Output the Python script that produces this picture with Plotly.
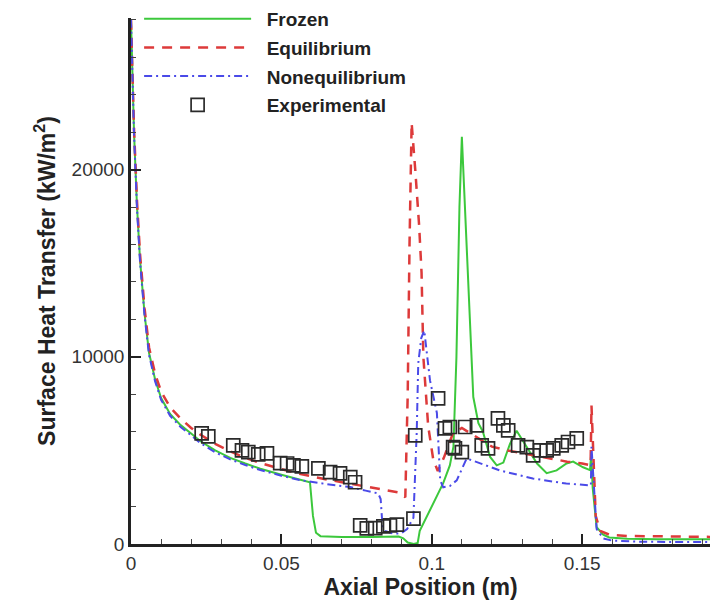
import plotly.graph_objects as go

# Surface heat transfer along the axial position for three chemistry models
frozen_x = [0, 0.0005, 0.001, 0.002, 0.003, 0.0045, 0.006, 0.008, 0.010, 0.013, 0.0165,
            0.020, 0.023, 0.028, 0.033, 0.038, 0.043, 0.050, 0.056, 0.0595, 0.0605,
            0.0615, 0.063, 0.070, 0.080, 0.089, 0.0905, 0.092, 0.094, 0.0953, 0.096,
            0.0985, 0.1005, 0.1038, 0.106, 0.1072, 0.1082, 0.1092, 0.1100, 0.1110,
            0.1127, 0.1138, 0.1155, 0.117, 0.1194, 0.1216, 0.1238, 0.126, 0.1282,
            0.1304, 0.135, 0.1382, 0.1415, 0.1448, 0.147, 0.1503, 0.1526, 0.1530,
            0.1535, 0.1548, 0.157, 0.159, 0.165, 0.175, 0.1925]
frozen_y = [28000, 25000, 22000, 18000, 15200, 12300, 10200, 8800, 7800, 6950, 6350,
            5900, 5500, 5000, 4600, 4300, 4020, 3700, 3450, 3300, 1500,
            600, 420, 380, 380, 400, 300, 80, 0, 50, 700,
            1500, 2150, 3250, 4200, 5200, 10000, 18000, 21750, 18000,
            11400, 7850, 6450, 6000, 4650, 4200, 4350, 5350, 6050,
            5500, 4300, 3780, 3930, 4300, 4400, 4100, 3950, 4800,
            3000, 900, 500, 350, 280, 260, 250]

equil_x = [0, 0.0005, 0.001, 0.002, 0.003, 0.0045, 0.006, 0.008, 0.010, 0.013, 0.0165,
           0.020, 0.023, 0.028, 0.033, 0.038, 0.043, 0.050, 0.056, 0.065, 0.075, 0.083,
           0.089, 0.0912, 0.0920, 0.0926, 0.0933, 0.0945, 0.0958, 0.0966, 0.0972,
           0.0988, 0.1005, 0.1020, 0.1040, 0.1070, 0.1100, 0.113, 0.117, 0.120, 0.125,
           0.130, 0.135, 0.140, 0.145, 0.150, 0.1528, 0.1531, 0.1536, 0.1545, 0.156,
           0.159, 0.165, 0.175, 0.1925]
equil_y = [28000, 25000, 22200, 18300, 15500, 12600, 10500, 9100, 8150, 7300, 6700,
           6200, 5850, 5350, 4950, 4600, 4330, 4000, 3750, 3450, 3150, 2950,
           2750, 2500, 8000, 16000, 22500, 20000, 17000, 14500, 10000,
           6300, 4500, 3900, 4600, 5900, 6200, 5900, 5500, 5200, 5000,
           4850, 4700, 4550, 4400, 4300, 4200, 7400, 5000, 1500, 700,
           500, 430, 400, 380]

noneq_x = [0, 0.0005, 0.001, 0.002, 0.003, 0.0045, 0.006, 0.008, 0.010, 0.013, 0.0165,
           0.020, 0.023, 0.028, 0.033, 0.038, 0.043, 0.050, 0.056, 0.065, 0.0729,
           0.078, 0.0822, 0.0830, 0.0836, 0.0845, 0.0870, 0.0897, 0.0918, 0.0939,
           0.0950, 0.0955, 0.0965, 0.0975, 0.0994, 0.1017, 0.1028, 0.1038, 0.1060,
           0.1083, 0.1116, 0.1226, 0.1336, 0.1447, 0.1524, 0.1529, 0.1531, 0.1537,
           0.1548, 0.157, 0.160, 0.170, 0.1925]
noneq_y = [28000, 25000, 21900, 17900, 15100, 12200, 10100, 8700, 7700, 6850, 6250,
           5800, 5400, 4900, 4520, 4220, 3950, 3650, 3420, 3200, 3040,
           2850, 2700, 2400, 1000, 700, 560, 560, 800, 1400,
           6000, 9650, 11000, 11400, 8750, 7000, 3400, 3030, 3100,
           3400, 4570, 3930, 3500, 3230, 3130, 3130, 5200, 3500,
           800, 300, 180, 120, 100]

exp_x = [0.0235, 0.0257, 0.0340, 0.0369, 0.0390, 0.0423, 0.0452, 0.0496, 0.0519,
         0.0540, 0.0568, 0.0623, 0.0662, 0.0695, 0.0729, 0.0745, 0.0762, 0.0784,
         0.0812, 0.0839, 0.0861, 0.0884, 0.0939, 0.0945, 0.1021, 0.1044, 0.1071,
         0.1060, 0.1077, 0.1100, 0.1111, 0.1150, 0.1166, 0.1187, 0.1220, 0.1238,
         0.1254, 0.1287, 0.1316, 0.1337, 0.1360, 0.1382, 0.1404, 0.1432, 0.1453,
         0.1482]
exp_y = [5910, 5750, 5270, 5000, 4910, 4790, 4840, 4320, 4300,
         4200, 4150, 4040, 3840, 3770, 3570, 3300, 990, 830,
         850, 940, 990, 1030, 1360, 5800, 7780, 6180, 5180,
         6250, 5110, 4910, 6250, 6340, 5270, 5110, 6710, 6340,
         6070, 5270, 5180, 4730, 5000, 5000, 5110, 5270, 5450,
         5640]

x_ticks = [0, 0.05, 0.1, 0.15]
x_tick_labels = ["0", "0.05", "0.1", "0.15"]
y_ticks = [0, 10000, 20000]
y_tick_labels = ["0", "10000", "20000"]

pad = "&nbsp;&nbsp;"

fig = go.Figure()
fig.add_trace(go.Scatter(x=frozen_x, y=frozen_y, mode="lines", name=pad + "Frozen",
                         legendgroup="a",
                         line=dict(color="#3cc83c", width=2)))
fig.add_trace(go.Scatter(x=equil_x, y=equil_y, mode="lines", name=pad + "Equilibrium",
                         legendgroup="b",
                         line=dict(color="#dd3a3a", width=2.5, dash="10px,8px")))
fig.add_trace(go.Scatter(x=noneq_x, y=noneq_y, mode="lines", name=pad + "Nonequilibrium",
                         legendgroup="c",
                         line=dict(color="#4a4ae8", width=2, dash="8px,4px,2px,4px")))
fig.add_trace(go.Scatter(x=exp_x, y=exp_y, mode="markers", name=pad + "Experimental",
                         legendgroup="d",
                         marker=dict(symbol="square-open", size=13, color="#2a2a2a",
                                     line=dict(width=1.7, color="#2a2a2a"))))

family = "Liberation Sans, Arial, sans-serif"
tick_font = dict(family=family, size=19, color="#333333")
title_font = dict(family=family, size=23, color="#222222")

fig.update_layout(
    width=715, height=605,
    margin=dict(l=131, r=5, t=18, b=61, autoexpand=False),
    plot_bgcolor="white", paper_bgcolor="white",
    font=dict(family=family, color="#222222"),
    legend=dict(
        x=0.014, y=1.0345, xanchor="left", yanchor="top",
        bgcolor="rgba(0,0,0,0)", itemwidth=107, tracegroupgap=1,
        font=dict(family=family, size=19, color="#222222", weight="bold"),
    ),
    xaxis=dict(
        range=[0, 0.1925], tickvals=x_ticks, ticktext=x_tick_labels,
        tickfont=tick_font,
        ticks="inside", ticklen=10, tickwidth=2, tickcolor="#222222",
        minor=dict(dtick=0.01, ticks="inside", ticklen=5, tickwidth=1.2, tickcolor="#444444"),
        showline=True, linecolor="#222222", linewidth=2.5,
        showgrid=False, zeroline=False,
        title=dict(text="<b>Axial Position (m)</b>", font=title_font, standoff=6),
    ),
    yaxis=dict(
        range=[0, 28100], tickvals=y_ticks, ticktext=y_tick_labels,
        tickfont=tick_font,
        ticks="inside", ticklen=10, tickwidth=2, tickcolor="#222222",
        minor=dict(dtick=2000, ticks="inside", ticklen=5, tickwidth=1.2, tickcolor="#444444"),
        showline=True, linecolor="#222222", linewidth=2.5,
        showgrid=False, zeroline=False,
        title=dict(text="<b>Surface Heat Transfer (kW/m<sup>2</sup>)</b>", font=title_font,
                   standoff=10),
    ),
)

fig.write_html("out.html")
